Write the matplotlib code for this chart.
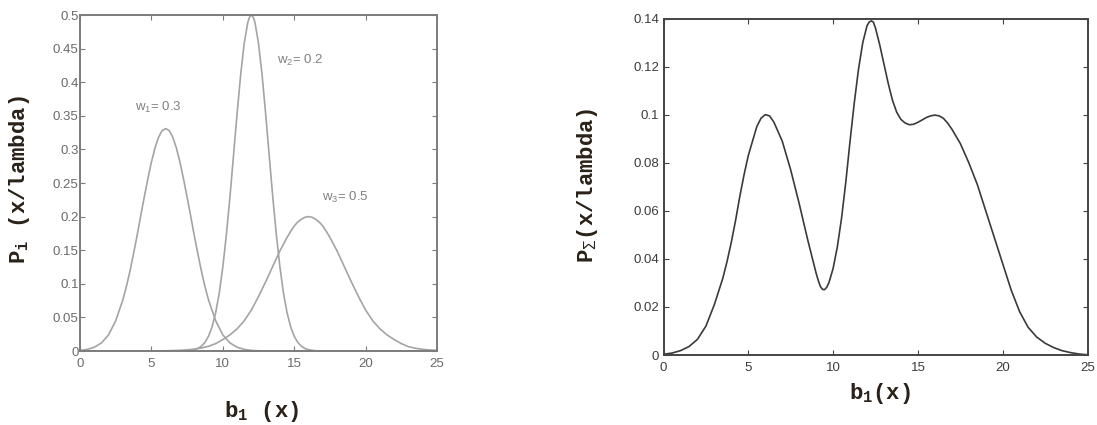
import matplotlib
matplotlib.use("Agg")
import matplotlib.pyplot as plt

# ---------------- data ----------------
x_w1 = [0, 0.5, 1, 1.5, 2, 2.5, 3, 3.25, 3.5, 3.75, 4, 4.25, 4.5, 4.75, 5, 5.25,
        5.5, 5.75, 6, 6.25, 6.5, 6.75, 7, 7.25, 7.5, 7.75, 8, 8.25, 8.5, 8.75,
        9, 9.5, 10, 10.5, 11, 11.5, 12, 12.5, 13, 14, 25]
p_w1 = [0.0009, 0.0024, 0.0056, 0.012, 0.024, 0.045, 0.076, 0.096, 0.119, 0.145,
        0.172, 0.201, 0.229, 0.256, 0.281, 0.302, 0.318, 0.328, 0.331, 0.328,
        0.318, 0.302, 0.281, 0.256, 0.229, 0.201, 0.172, 0.145, 0.119, 0.096,
        0.076, 0.045, 0.024, 0.012, 0.0056, 0.0024, 0.0009, 0.0003, 0.0001,
        0.0, 0.0]

x_w2 = [0, 7, 7.5, 8, 8.25, 8.5, 8.75, 9, 9.25, 9.5, 9.75, 10, 10.25, 10.5, 10.75,
        11, 11.25, 11.5, 11.75, 11.875, 12, 12.125, 12.25, 12.5, 12.75, 13,
        13.25, 13.5, 13.75, 14, 14.25, 14.5, 14.75, 15, 15.25, 15.5, 15.75, 16,
        16.5, 17, 25]
p_w2 = [0.0, 0.0001, 0.0004, 0.0019, 0.0038, 0.0071, 0.0128, 0.022, 0.036, 0.057,
        0.086, 0.125, 0.173, 0.229, 0.291, 0.353, 0.411, 0.458, 0.489, 0.497,
        0.5, 0.497, 0.489, 0.458, 0.411, 0.353, 0.291, 0.229, 0.173, 0.125,
        0.086, 0.057, 0.036, 0.022, 0.0128, 0.0071, 0.0038, 0.0019, 0.0004,
        0.0001, 0.0]

x_w3 = [0, 5, 5.5, 6, 6.5, 7, 7.5, 8, 8.5, 9, 9.5, 10, 10.5, 11, 11.5, 12, 12.5,
        13, 13.5, 14, 14.25, 14.5, 14.75, 15, 15.25, 15.5, 15.75, 16, 16.25,
        16.5, 16.75, 17, 17.25, 17.5, 17.75, 18, 18.5, 19, 19.5, 20, 20.5, 21,
        21.5, 22, 22.5, 23, 23.5, 24, 24.5, 25]
p_w3 = [0.0, 0.0001, 0.0002, 0.0003, 0.0006, 0.001, 0.0017, 0.0028, 0.0045, 0.007,
        0.011, 0.017, 0.024, 0.033, 0.045, 0.061, 0.081, 0.103, 0.126, 0.149,
        0.159, 0.169, 0.178, 0.186, 0.192, 0.196, 0.199, 0.200, 0.199, 0.196,
        0.192, 0.186, 0.178, 0.169, 0.159, 0.149, 0.126, 0.103, 0.081, 0.061,
        0.045, 0.033, 0.024, 0.017, 0.011, 0.0065, 0.004, 0.0025, 0.0015, 0.001]

x_sum = [0, 0.5, 1, 1.5, 2, 2.5, 3, 3.5, 3.75, 4, 4.25, 4.5, 4.75, 5, 5.25, 5.5,
         5.75, 6, 6.25, 6.5, 6.75, 7, 7.25, 7.5, 7.75, 8, 8.25, 8.5, 8.75, 9,
         9.125, 9.25, 9.375, 9.5, 9.625, 9.75, 10, 10.25, 10.5, 10.75, 11, 11.25,
         11.5, 11.75, 12, 12.125, 12.25, 12.375, 12.5, 12.75, 13, 13.25, 13.5,
         13.75, 14, 14.25, 14.5, 14.75, 15, 15.25, 15.5, 15.75, 16, 16.25, 16.5,
         16.75, 17, 17.25, 17.5, 18, 18.5, 19, 19.5, 20, 20.5, 21, 21.5, 22,
         22.5, 23, 23.5, 24, 24.5, 25]
p_sum = [0.0003, 0.0008, 0.0018, 0.0035, 0.0065, 0.012, 0.021, 0.032, 0.039,
         0.047, 0.056, 0.066, 0.075, 0.083, 0.089, 0.095, 0.0985, 0.100, 0.0995,
         0.097, 0.093, 0.089, 0.083, 0.077, 0.070, 0.063, 0.0555, 0.048, 0.041,
         0.034, 0.031, 0.0285, 0.0273, 0.0272, 0.0282, 0.030, 0.036, 0.045,
         0.057, 0.072, 0.089, 0.105, 0.119, 0.130, 0.137, 0.1385, 0.139, 0.1385,
         0.136, 0.129, 0.121, 0.113, 0.106, 0.101, 0.098, 0.0965, 0.0958,
         0.0960, 0.0968, 0.0978, 0.0988, 0.0995, 0.0998, 0.0995, 0.0985, 0.0965,
         0.094, 0.091, 0.088, 0.080, 0.071, 0.060, 0.049, 0.038, 0.027, 0.018,
         0.0115, 0.0075, 0.0049, 0.0031, 0.0018, 0.001, 0.0004, 0.0001]

weight_labels = [r"w$_1$= 0.3", r"w$_2$= 0.2", r"w$_3$= 0.5"]
weight_pos = [(3.85, 0.362), (13.8, 0.433), (16.95, 0.228)]

x_ticks = [0, 5, 10, 15, 20, 25]
y_ticks_left = [0, 0.05, 0.1, 0.15, 0.2, 0.25, 0.3, 0.35, 0.4, 0.45, 0.5]
y_ticklabels_left = ["0", "0.05", "0.1", "0.15", "0.2", "0.25", "0.3", "0.35",
                     "0.4", "0.45", "0.5"]
y_ticks_right = [0, 0.02, 0.04, 0.06, 0.08, 0.1, 0.12, 0.14]
y_ticklabels_right = ["0", "0.02", "0.04", "0.06", "0.08", "0.1", "0.12", "0.14"]

# ---------------- figure ----------------
plt.rcParams['font.family'] = ['Liberation Sans', 'DejaVu Sans']
plt.rcParams['mathtext.fontset'] = 'custom'
plt.rcParams['mathtext.rm'] = 'Liberation Sans'
plt.rcParams['mathtext.it'] = 'Liberation Sans'

fig = plt.figure(figsize=(10.97, 4.25), dpi=100)

W, H = 1097.0, 425.0
axL = fig.add_axes([80 / W, (H - 351) / H, 357 / W, 336 / H])
axR = fig.add_axes([663.5 / W, (H - 355) / H, 424 / W, 336.5 / H])

curve_gray = "#a4a4a4"
line_kw = dict(lw=1.2, solid_joinstyle="round", solid_capstyle="round")
axL.plot(x_w1, p_w1, color=curve_gray, **line_kw)
axL.plot(x_w2, p_w2, color=curve_gray, **line_kw)
axL.plot(x_w3, p_w3, color=curve_gray, **line_kw)
for lab, (tx, ty) in zip(weight_labels, weight_pos):
    axL.text(tx, ty, lab, fontsize=9.5, color="#808080", ha="left", va="center")

axR.plot(x_sum, p_sum, color="#3a3a3a", **line_kw)

def style(ax, yt, ytl, ymax, spine_col, lab_col, ypad, xpad):
    ax.set_xlim(0, 25)
    ax.set_ylim(0, ymax)
    ax.set_xticks(x_ticks)
    ax.set_xticklabels([str(t) for t in x_ticks])
    ax.set_yticks(yt)
    ax.set_yticklabels(ytl)
    for s in ax.spines.values():
        s.set_color(spine_col)
        s.set_linewidth(1.4)
    ax.tick_params(direction="in", length=3.5, width=0.8, color=spine_col,
                   top=True, right=True, labelsize=9.5, labelcolor=lab_col)
    ax.tick_params(axis="y", pad=ypad)
    ax.tick_params(axis="x", pad=xpad)

style(axL, y_ticks_left, y_ticklabels_left, 0.5, "#7c7c7c", "#6a6a6a", 1, 5)
style(axR, y_ticks_right, y_ticklabels_right, 0.14, "#444444", "#3c3c3c", 3, 5)

label_font = dict(family=['Liberation Mono', 'DejaVu Sans Mono'],
                  fontweight='bold', fontsize=16, color="#2a2118")
fig.text(20 / W, 1 - 180 / H, r"P$_\mathregular{i}$ (x/lambda)",
         rotation=90, ha="center", va="center", **label_font)
fig.text(262 / W, 1 - 412 / H, r"b$_\mathregular{1}$ (x)",
         ha="center", va="center", **label_font)
fig.text(587 / W, 1 - 185 / H, r"P$_\Sigma$(x/lambda)",
         rotation=90, ha="center", va="center", **label_font)
fig.text(880 / W, 1 - 393 / H, r"b$_\mathregular{1}$(x)",
         ha="center", va="center", **label_font)

fig.savefig("out.png", dpi=100, facecolor="white")
